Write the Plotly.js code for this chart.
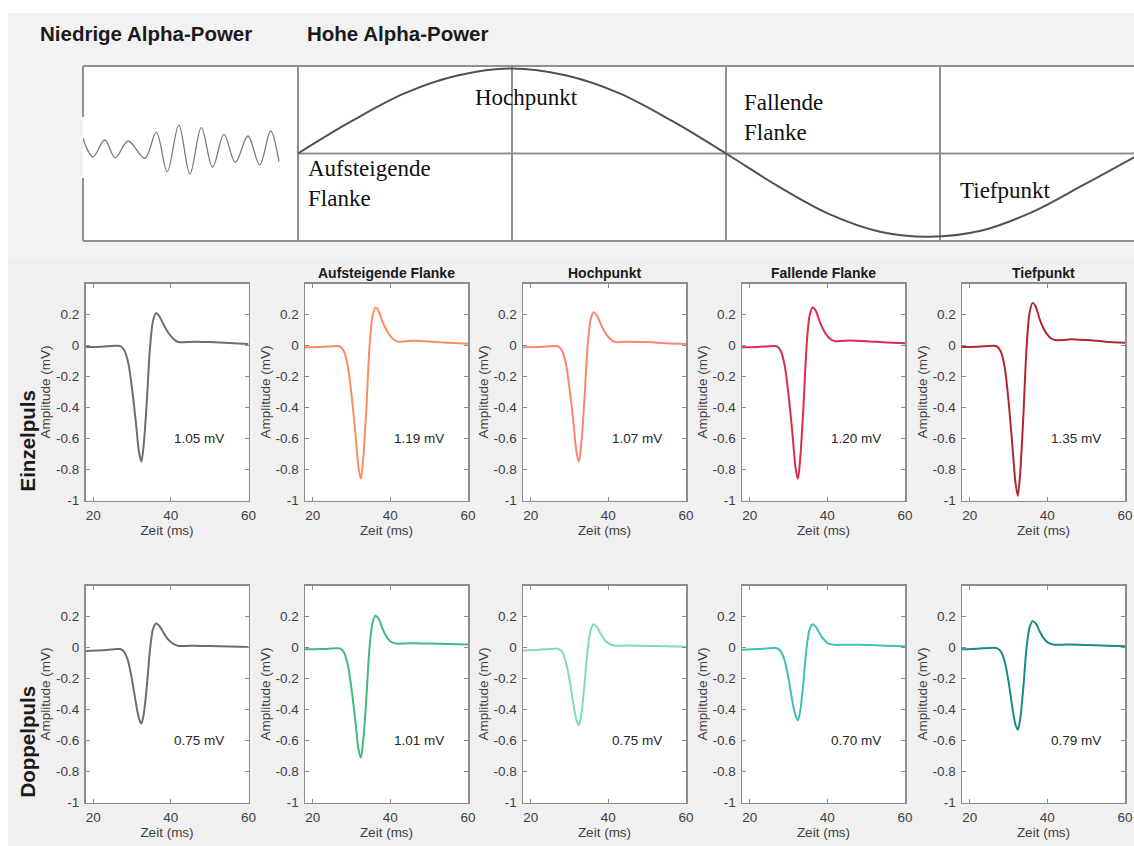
<!DOCTYPE html>
<html>
<head>
<meta charset="utf-8">
<script src="https://cdn.plot.ly/plotly-3.0.1.min.js"></script>
<style>
  html, body { margin: 0; padding: 0; background: #ffffff; }
  #chart { width: 1134px; height: 846px; }
</style>
</head>
<body>
<div id="chart"></div>
<script>
// ---- MEP time base (ms) ----
const timeMs = [18, 22, 26, 27, 28, 29, 30, 31, 31.8, 32.4, 33, 33.8, 34.6, 35.4, 36.2, 37, 38, 39, 40, 41, 42, 44, 46, 50, 55, 60];

// ---- Einzelpuls: mean MEP per condition (mV) ----
const einzelNiedrig     = [-0.010, -0.008, -0.002, -0.004, -0.030, -0.11, -0.28, -0.50, -0.69, -0.75, -0.64, -0.36, -0.02, 0.160, 0.210, 0.190, 0.140, 0.095, 0.060, 0.035, 0.022, 0.022, 0.025, 0.022, 0.016, 0.010];
const einzelAufsteigend = [-0.012, -0.010, -0.003, -0.005, -0.035, -0.13, -0.32, -0.57, -0.79, -0.86, -0.73, -0.41, -0.02, 0.190, 0.245, 0.220, 0.150, 0.100, 0.060, 0.035, 0.025, 0.028, 0.030, 0.026, 0.018, 0.012];
const einzelHoch        = [-0.012, -0.010, -0.003, -0.005, -0.030, -0.11, -0.28, -0.50, -0.69, -0.75, -0.64, -0.36, -0.02, 0.165, 0.215, 0.195, 0.140, 0.090, 0.055, 0.032, 0.022, 0.024, 0.025, 0.022, 0.015, 0.010];
const einzelFallend     = [-0.012, -0.010, -0.003, -0.005, -0.035, -0.13, -0.32, -0.57, -0.79, -0.86, -0.73, -0.41, -0.02, 0.190, 0.245, 0.225, 0.155, 0.100, 0.060, 0.038, 0.028, 0.030, 0.032, 0.028, 0.020, 0.014];
const einzelTief        = [-0.010, -0.008, -0.002, -0.005, -0.040, -0.14, -0.36, -0.65, -0.89, -0.97, -0.82, -0.46, -0.03, 0.210, 0.275, 0.250, 0.170, 0.110, 0.070, 0.045, 0.035, 0.035, 0.040, 0.035, 0.025, 0.018];

// ---- Doppelpuls: mean MEP per condition (mV) ----
const doppelNiedrig     = [-0.022, -0.018, -0.010, -0.010, -0.030, -0.090, -0.21, -0.36, -0.46, -0.49, -0.43, -0.25, -0.02, 0.120, 0.155, 0.140, 0.100, 0.060, 0.035, 0.018, 0.010, 0.010, 0.012, 0.010, 0.006, 0.003];
const doppelAufsteigend = [-0.012, -0.010, -0.005, -0.006, -0.030, -0.110, -0.27, -0.48, -0.66, -0.71, -0.60, -0.33, -0.01, 0.160, 0.205, 0.185, 0.120, 0.070, 0.040, 0.028, 0.025, 0.026, 0.028, 0.026, 0.022, 0.020];
const doppelHoch        = [-0.020, -0.015, -0.008, -0.008, -0.025, -0.090, -0.21, -0.37, -0.47, -0.50, -0.44, -0.25, -0.03, 0.110, 0.150, 0.135, 0.090, 0.050, 0.028, 0.016, 0.012, 0.012, 0.013, 0.010, 0.008, 0.005];
const doppelFallend     = [-0.015, -0.010, -0.004, -0.005, -0.025, -0.085, -0.20, -0.35, -0.44, -0.47, -0.41, -0.23, -0.01, 0.115, 0.150, 0.135, 0.090, 0.055, 0.030, 0.020, 0.017, 0.018, 0.018, 0.016, 0.012, 0.008];
const doppelTief        = [-0.012, -0.008, -0.002, -0.004, -0.025, -0.090, -0.22, -0.39, -0.50, -0.53, -0.46, -0.26, -0.01, 0.130, 0.170, 0.155, 0.105, 0.060, 0.035, 0.022, 0.018, 0.018, 0.020, 0.016, 0.012, 0.008];

// ---- peak-to-peak amplitudes (mV) ----
const einzelAmplitude = [1.05, 1.19, 1.07, 1.20, 1.35];
const doppelAmplitude = [0.75, 1.01, 0.75, 0.70, 0.79];

// ---- labels ----
const phaseTitles = ['', 'Aufsteigende Flanke', 'Hochpunkt', 'Fallende Flanke', 'Tiefpunkt'];
const rowLabels = ['Einzelpuls', 'Doppelpuls'];
const xTicks = [20, 40, 60];
const yTicks = [-1, -0.8, -0.6, -0.4, -0.2, 0, 0.2];
const yTickLabels = ['-1', '-0.8', '-0.6', '-0.4', '-0.2', '0', '0.2'];

// ---- alpha schematic (x in quarter cycles, y normalised) ----
const sinePhase = [0, 0.25, 0.5, 0.75, 1, 1.25, 1.5, 1.75, 2, 2.24, 2.48, 2.72, 2.95, 3.19, 3.43, 3.67, 3.91];
const sineValue = [0, 0.38, 0.71, 0.92, 1.0, 0.92, 0.71, 0.38, 0, -0.38, -0.71, -0.92, -0.98, -0.91, -0.69, -0.37, -0.04];
const lowAlphaPhase = [-1.005, -0.958, -0.903, -0.854, -0.794, -0.716, -0.662, -0.611, -0.557, -0.505, -0.452, -0.399, -0.346, -0.293, -0.234, -0.179, -0.128, -0.089];
const lowAlphaValue = [0.179, -0.038, 0.159, -0.049, 0.147, -0.056, 0.249, -0.214, 0.335, -0.241, 0.304, -0.159, 0.226, -0.104, 0.206, -0.135, 0.265, -0.096];
const phaseGrid = [0, 1, 2, 3];
const schemeLabels = [
  {text: 'Aufsteigende<br>Flanke', px: 306, py: 184},
  {text: 'Hochpunkt', px: 473, py: 97},
  {text: 'Fallende<br>Flanke', px: 742, py: 118},
  {text: 'Tiefpunkt', px: 958, py: 190}
];

// ---- styling ----
const W = 1134, H = 846;
const fx = p => p / W;
const fy = p => 1 - p / H;
const SANS = 'Arial, "Liberation Sans", Helvetica, sans-serif';
const SERIF = '"Times New Roman", "Liberation Serif", serif';
const AXIS_GREY = '#8c8c8c';
const TEXT_GREY = '#404040';

const rows = [
  {label: rowLabels[0], series: [einzelNiedrig, einzelAufsteigend, einzelHoch, einzelFallend, einzelTief],
   amps: einzelAmplitude, colors: ['#6e6e6e', '#fd8c5e', '#fa8670', '#dc2b51', '#b1292f'], top: 283.5},
  {label: rowLabels[1], series: [doppelNiedrig, doppelAufsteigend, doppelHoch, doppelFallend, doppelTief],
   amps: doppelAmplitude, colors: ['#6e6e6e', '#43b980', '#7fdcc0', '#3fc0b7', '#1b8b87'], top: 585.5}
];
const colLeft = [85.5, 305, 523, 742, 962];
const plotW = 163, plotH = 217;

const data = [];
const layout = {
  width: W, height: H,
  margin: {l: 0, r: 0, t: 0, b: 0},
  paper_bgcolor: '#f0f0f0',
  plot_bgcolor: '#ffffff',
  showlegend: false,
  shapes: [],
  annotations: []
};

let n = 0;
rows.forEach((row, r) => {
  row.series.forEach((values, c) => {
    n += 1;
    const sfx = n === 1 ? '' : String(n);
    data.push({
      type: 'scatter', mode: 'lines', x: timeMs, y: values,
      xaxis: 'x' + sfx, yaxis: 'y' + sfx,
      line: {color: row.colors[c], width: 2, shape: 'spline', smoothing: 0.8},
      hoverinfo: 'skip'
    });
    const x0 = colLeft[c], y0 = row.top;
    layout['xaxis' + sfx] = {
      domain: [fx(x0), fx(x0 + plotW)], anchor: 'y' + sfx,
      range: [18, 60], tickvals: xTicks, ticks: 'inside', ticklen: 4, tickcolor: AXIS_GREY,
      showline: true, linecolor: AXIS_GREY, linewidth: 1.5, mirror: 'ticks',
      showgrid: false, zeroline: false, fixedrange: true, ticklabelstandoff: 2,
      tickfont: {family: SANS, size: 13.5, color: TEXT_GREY},
      title: {text: 'Zeit (ms)', font: {family: SANS, size: 13.5, color: TEXT_GREY}, standoff: 2}
    };
    layout['yaxis' + sfx] = {
      domain: [fy(y0 + plotH), fy(y0)], anchor: 'x' + sfx,
      range: [-1, 0.4], tickvals: yTicks, ticktext: yTickLabels, ticks: 'inside', ticklen: 4, tickcolor: AXIS_GREY,
      showline: true, linecolor: AXIS_GREY, linewidth: 1.5, mirror: 'ticks',
      showgrid: false, zeroline: false, fixedrange: true, ticklabelstandoff: 2,
      tickfont: {family: SANS, size: 13.5, color: TEXT_GREY},
      title: {text: 'Amplitude (mV)', font: {family: SANS, size: 13.5, color: TEXT_GREY}, standoff: 2}
    };
    layout.annotations.push({
      xref: 'x' + sfx, yref: 'y' + sfx, x: 47.3, y: -0.6,
      text: row.amps[c].toFixed(2) + ' mV', showarrow: false,
      font: {family: SANS, size: 13.5, color: '#262626'}
    });
    if (r === 0 && phaseTitles[c]) {
      layout.annotations.push({
        xref: 'paper', yref: 'paper', x: fx(x0 + plotW / 2), y: fy(273),
        xanchor: 'center', yanchor: 'middle', text: '<b>' + phaseTitles[c] + '</b>', showarrow: false,
        font: {family: SANS, size: 14, color: '#1a1a1a'}
      });
    }
  });
  layout.annotations.push({
    xref: 'paper', yref: 'paper', x: fx(27), y: fy(row.top + (r === 0 ? 158 : 156)),
    xanchor: 'center', yanchor: 'middle', textangle: -90,
    text: '<b>' + row.label + '</b>', showarrow: false,
    font: {family: SANS, size: 20.5, color: '#1a1a1a'}
  });
});

// ---- alpha schematic panel ----
const boxL = 83, boxT = 66, boxB = 241, phaseZero = 298, quarterPx = 214;
data.push({
  type: 'scatter', mode: 'lines', x: lowAlphaPhase, y: lowAlphaValue, xaxis: 'x11', yaxis: 'y11',
  line: {color: '#7a7a7a', width: 1.3, shape: 'spline', smoothing: 1}, hoverinfo: 'skip'
});
data.push({
  type: 'scatter', mode: 'lines', x: sinePhase, y: sineValue, xaxis: 'x11', yaxis: 'y11',
  line: {color: '#505050', width: 2, shape: 'spline', smoothing: 1}, hoverinfo: 'skip'
});
layout.xaxis11 = {
  domain: [fx(boxL), 1], anchor: 'y11',
  range: [(boxL - phaseZero) / quarterPx, (W - phaseZero) / quarterPx],
  tickvals: phaseGrid, showticklabels: false, ticks: '', showgrid: true,
  gridcolor: '#8f8f8f', gridwidth: 2, zeroline: false, showline: false, fixedrange: true
};
layout.yaxis11 = {
  domain: [fy(boxB), fy(boxT)], anchor: 'x11', range: [-1.03, 1.03],
  showticklabels: false, ticks: '', showgrid: false, zeroline: false, showline: false, fixedrange: true
};

// backgrounds and frame
const frame = {color: '#8f8f8f', width: 2};
layout.shapes.push(
  {type: 'rect', xref: 'paper', yref: 'paper', x0: 0, x1: fx(8), y0: 0, y1: 1, fillcolor: '#ffffff', line: {width: 0}, layer: 'below'},
  {type: 'rect', xref: 'paper', yref: 'paper', x0: 0, x1: 1, y0: fy(13), y1: 1, fillcolor: '#ffffff', line: {width: 0}, layer: 'below'},
  {type: 'rect', xref: 'paper', yref: 'paper', x0: fx(8), x1: 1, y0: fy(261), y1: fy(13), fillcolor: '#f2f2f2', line: {width: 0}, layer: 'below'},
  {type: 'rect', xref: 'paper', yref: 'paper', x0: fx(boxL), x1: 1, y0: fy(boxB), y1: fy(boxT), fillcolor: '#ffffff', line: {width: 0}, layer: 'below'},
  {type: 'line', xref: 'paper', yref: 'paper', x0: fx(boxL), x1: 1, y0: fy(boxT), y1: fy(boxT), line: frame},
  {type: 'line', xref: 'paper', yref: 'paper', x0: fx(boxL), x1: 1, y0: fy(boxB), y1: fy(boxB), line: frame},
  {type: 'line', xref: 'paper', yref: 'paper', x0: fx(boxL), x1: fx(boxL), y0: fy(117), y1: fy(boxT), line: frame},
  {type: 'line', xref: 'paper', yref: 'paper', x0: fx(boxL), x1: fx(boxL), y0: fy(boxB), y1: fy(178), line: frame},
  {type: 'line', xref: 'x11', yref: 'y11', x0: 0, x1: (W - phaseZero) / quarterPx, y0: 0, y1: 0, line: frame, layer: 'below'}
);

layout.annotations.push(
  {xref: 'paper', yref: 'paper', x: fx(38), y: fy(34), xanchor: 'left', yanchor: 'middle',
   text: '<b>Niedrige Alpha-Power</b>', showarrow: false, font: {family: SANS, size: 20.5, color: '#1a1a1a'}},
  {xref: 'paper', yref: 'paper', x: fx(305), y: fy(34), xanchor: 'left', yanchor: 'middle',
   text: '<b>Hohe Alpha-Power</b>', showarrow: false, font: {family: SANS, size: 20.5, color: '#1a1a1a'}}
);
schemeLabels.forEach(lbl => {
  layout.annotations.push({
    xref: 'paper', yref: 'paper', x: fx(lbl.px), y: fy(lbl.py), xanchor: 'left', yanchor: 'middle',
    align: 'left', text: lbl.text, showarrow: false, font: {family: SERIF, size: 23, color: '#111111'}
  });
});

Plotly.newPlot('chart', data, layout, {staticPlot: true, displayModeBar: false});
</script>
</body>
</html>
